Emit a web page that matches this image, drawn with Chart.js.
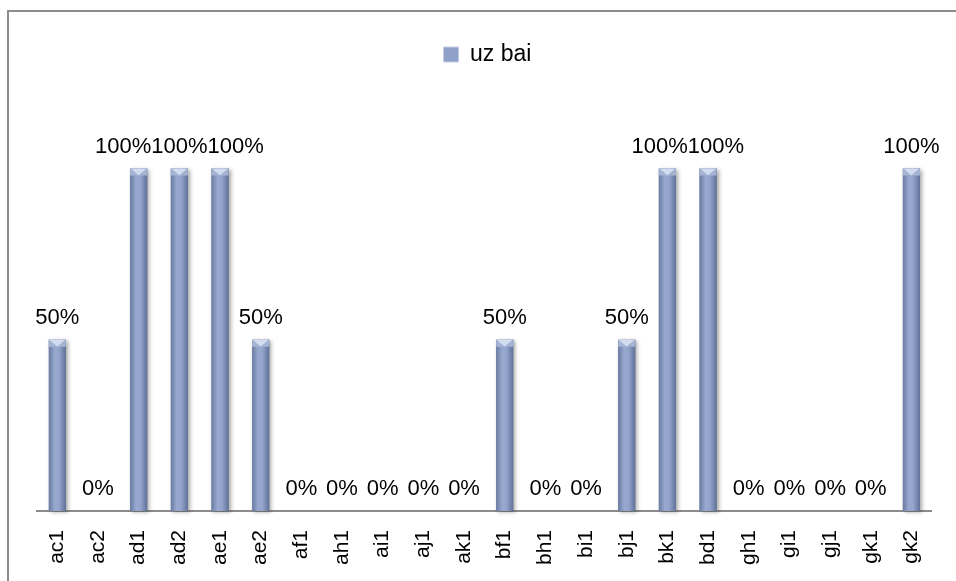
<!DOCTYPE html>
<html>
<head>
<meta charset="utf-8">
<script src="https://cdn.jsdelivr.net/npm/chart.js@4"></script>
<style>
  html, body { margin: 0; padding: 0; background: #fff; overflow: hidden; }
  #frame { position: absolute; left: 7px; top: 10px; width: 1100px; height: 700px; border: 2px solid #8c8c8c; }
  #wrap { position: absolute; left: 0; top: 0; width: 956px; height: 581px; }
</style>
</head>
<body>
<div id="frame"></div>
<div id="wrap"><canvas id="chart"></canvas></div>
<script>
const categories = ['ac1', 'ac2', 'ad1', 'ad2', 'ae1', 'ae2', 'af1', 'ah1', 'ai1', 'aj1', 'ak1',
  'bf1', 'bh1', 'bi1', 'bj1', 'bk1', 'bd1', 'gh1', 'gi1', 'gj1', 'gk1', 'gk2'];
const uzBai = [0.5, 0, 1, 1, 1, 0.5, 0, 0, 0, 0, 0, 0.5, 0, 0, 0.5, 1, 1, 0, 0, 0, 0, 1];
const seriesName = 'uz bai';

const FONT = 'Liberation Sans, Arial, sans-serif';

// legend gets extra room below it
const legendSpace = {
  id: 'legendSpace',
  beforeInit(chart) {
    const fit = chart.legend.fit;
    chart.legend.fit = function () { fit.bind(chart.legend)(); this.height += 24; };
  }
};

// 3d-ish bars: shadow, horizontal shading, light bevel on the top
const barLook = {
  id: 'barLook',
  afterDatasetsDraw(chart) {
    const ctx = chart.ctx;
    const meta = chart.getDatasetMeta(0);
    meta.data.forEach((bar, i) => {
      if (!uzBai[i]) return;
      const w = bar.width, x0 = bar.x - w / 2, x1 = bar.x + w / 2;
      const top = bar.y, base = bar.base;
      ctx.save();
      ctx.shadowColor = 'rgba(0,0,0,0.35)';
      ctx.shadowBlur = 4;
      ctx.shadowOffsetX = 2;
      ctx.shadowOffsetY = 1;
      const g = ctx.createLinearGradient(x0, 0, x1, 0);
      g.addColorStop(0, '#6a7ba1');
      g.addColorStop(0.35, '#97a9cf');
      g.addColorStop(0.6, '#93a5cb');
      g.addColorStop(1, '#61729a');
      ctx.fillStyle = g;
      ctx.fillRect(x0, top, w, base - top);
      ctx.restore();
      // bevel on the top
      const h = 7;
      ctx.save();
      ctx.fillStyle = '#d3dcef';
      ctx.beginPath();
      ctx.moveTo(x0, top);
      ctx.lineTo(x1, top);
      ctx.lineTo(bar.x, top + h);
      ctx.closePath();
      ctx.fill();
      ctx.fillStyle = '#a6b4d4';
      ctx.beginPath();
      ctx.moveTo(x0, top);
      ctx.lineTo(bar.x, top + h);
      ctx.lineTo(x0, top + h);
      ctx.closePath();
      ctx.fill();
      ctx.beginPath();
      ctx.moveTo(x1, top);
      ctx.lineTo(bar.x, top + h);
      ctx.lineTo(x1, top + h);
      ctx.closePath();
      ctx.fill();
      ctx.restore();
    });
  }
};

// value labels over the bars, neighbours that collide get spread apart
const valueLabels = {
  id: 'valueLabels',
  afterDraw(chart) {
    const ctx = chart.ctx;
    const meta = chart.getDatasetMeta(0);
    ctx.save();
    ctx.font = '22px ' + FONT;
    ctx.fillStyle = '#000';
    ctx.textAlign = 'center';
    ctx.textBaseline = 'alphabetic';
    const items = meta.data.map((bar, i) => {
      const text = Math.round(uzBai[i] * 100) + '%';
      return { text, x: bar.x, y: bar.y - 16, w: ctx.measureText(text).width };
    });
    let i = 0;
    while (i < items.length) {
      let j = i;
      while (j + 1 < items.length && items[j + 1].y === items[i].y &&
             items[j + 1].x - items[j].x < (items[j].w + items[j + 1].w) / 2) j++;
      if (j > i) {
        const center = (items[i].x + items[j].x) / 2;
        const total = items.slice(i, j + 1).reduce((s, it) => s + it.w, 0);
        let cx = center - total / 2;
        for (let k = i; k <= j; k++) { items[k].x = cx + items[k].w / 2; cx += items[k].w; }
      }
      i = j + 1;
    }
    items.forEach(it => ctx.fillText(it.text, it.x, it.y));
    ctx.restore();
  }
};

new Chart(document.getElementById('chart'), {
  type: 'bar',
  data: {
    labels: categories,
    datasets: [{
      label: seriesName,
      data: uzBai,
      backgroundColor: '#8a9cc3',
      borderWidth: 0,
      barPercentage: 0.42,
      categoryPercentage: 1
    }]
  },
  options: {
    responsive: true, maintainAspectRatio: false, animation: false,
    layout: { padding: { left: 37, right: 18, top: 33, bottom: 0 } },
    plugins: {
      legend: {
        position: 'top',
        labels: {
          font: { family: FONT, size: 23 }, color: '#000',
          boxWidth: 15, boxHeight: 15, padding: 10,
          generateLabels: () => [{
            text: seriesName, fillStyle: '#8fa1c8', strokeStyle: '#c3cee6',
            lineWidth: 1, datasetIndex: 0
          }]
        }
      },
      tooltip: { enabled: false }
    },
    scales: {
      x: {
        offset: true,
        grid: { display: false, drawTicks: false },
        border: { display: true, color: '#8c8c8c', width: 2 },
        ticks: {
          color: '#000', font: { family: FONT, size: 21 },
          minRotation: 90, maxRotation: 90, padding: 19, autoSkip: false
        },
        afterFit: s => { s.height = 70; }
      },
      y: {
        display: false,
        min: 0, max: 1.2
      }
    }
  },
  plugins: [legendSpace, barLook, valueLabels]
});
</script>
</body>
</html>
